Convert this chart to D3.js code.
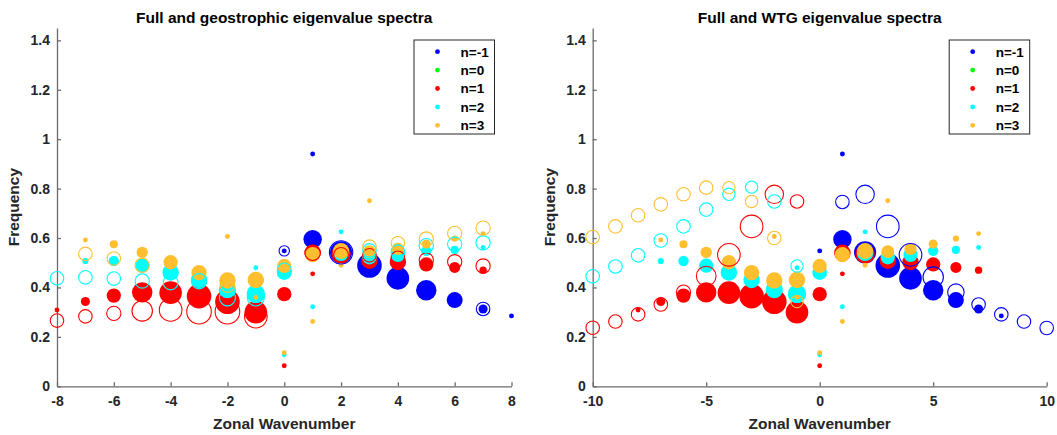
<!DOCTYPE html>
<html>

<head>
  <meta charset="utf-8">
  <title>Eigenvalue spectra</title>
  <script src="https://d3js.org/d3.v7.min.js"></script>
  <style>
    body {
      margin: 0;
      background: #fff;
    }

    text {
      font-family: 'Liberation Sans', Arial, sans-serif;
      font-weight: bold;
    }

    .axis text {
      fill: #262626;
      font-size: 14px;
    }

    .axis line,
    .axis path {
      stroke: #6b6b6b;
      stroke-width: 1.3px;
    }
  </style>
</head>

<body>
  <div id="chart"></div>
  <script>
    // wave index n, and its colour
    const nLevels = [-1, 0, 1, 2, 3];
    const nColors = ["#0000ff", "#00ff00", "#ff0000", "#00ffff", "#ffbf2f"];
    const legendLabels = ["n=-1", "n=0", "n=1", "n=2", "n=3"];

    const yTicks = [0, 0.2, 0.4, 0.6, 0.8, 1, 1.2, 1.4];
    const leftXTicks = [-8, -6, -4, -2, 0, 2, 4, 6, 8];
    const rightXTicks = [-10, -5, 0, 5, 10];

    // full spectrum: [n, wavenumber, frequency, amplitude]
    const fullSpectrum = [
      [-1, 0, 0.548, 0.2], [-1, 1, 0.940, 0.2], [-1, 1, 0.595, 0.75], [-1, 2, 0.542, 0.9],
      [-1, 3, 0.489, 1.0], [-1, 4, 0.437, 0.92], [-1, 5, 0.389, 0.83], [-1, 6, 0.349, 0.65],
      [-1, 7, 0.313, 0.37], [-1, 8, 0.285, 0.2],
      [1, -8, 0.309, 0.2], [1, -7, 0.343, 0.37], [1, -6, 0.367, 0.58], [1, -5, 0.380, 0.83],
      [1, -4, 0.379, 0.92], [1, -3, 0.365, 1.0], [1, -2, 0.342, 1.0], [1, -1, 0.300, 0.92],
      [1, 0, 0.373, 0.58], [1, 0, 0.083, 0.2], [1, 1, 0.540, 0.67], [1, 1, 0.455, 0.2],
      [1, 2, 0.536, 0.78], [1, 3, 0.508, 0.67], [1, 4, 0.503, 0.67], [1, 5, 0.493, 0.58],
      [1, 6, 0.481, 0.45], [1, 7, 0.470, 0.3],
      [2, -7, 0.507, 0.25], [2, -6, 0.507, 0.42], [2, -5, 0.488, 0.58], [2, -4, 0.461, 0.67],
      [2, -3, 0.430, 0.67], [2, -2, 0.391, 0.7], [2, -1, 0.480, 0.2], [2, -1, 0.374, 0.75],
      [2, 0, 0.460, 0.6], [2, 0, 0.128, 0.2], [2, 1, 0.322, 0.2], [2, 2, 0.625, 0.2],
      [2, 2, 0.540, 0.67], [2, 3, 0.522, 0.58], [2, 4, 0.532, 0.58], [2, 5, 0.548, 0.42],
      [2, 6, 0.552, 0.33], [2, 7, 0.562, 0.2],
      [3, -7, 0.592, 0.2], [3, -6, 0.575, 0.33], [3, -5, 0.542, 0.46], [3, -4, 0.502, 0.58],
      [3, -3, 0.460, 0.62], [3, -2, 0.606, 0.2], [3, -2, 0.428, 0.67], [3, -1, 0.430, 0.67],
      [3, -1, 0.360, 0.2], [3, 0, 0.487, 0.58], [3, 0, 0.136, 0.2], [3, 1, 0.533, 0.62],
      [3, 1, 0.262, 0.2], [3, 2, 0.548, 0.65], [3, 2, 0.490, 0.2], [3, 3, 0.751, 0.2],
      [3, 3, 0.545, 0.52], [3, 4, 0.556, 0.5], [3, 5, 0.576, 0.37], [3, 6, 0.598, 0.25],
      [3, 7, 0.618, 0.2]
    ];

    // geostrophic approximation (open circles)
    const geoSpectrum = [
      [-1, 0, 0.548, 0.42], [-1, 2, 0.542, 0.95], [-1, 7, 0.313, 0.55],
      [1, -8, 0.266, 0.55], [1, -7, 0.283, 0.55], [1, -6, 0.295, 0.58], [1, -5, 0.305, 0.83],
      [1, -4, 0.309, 0.92], [1, -3, 0.302, 1.0], [1, -2, 0.302, 1.0], [1, -1, 0.282, 0.92],
      [1, 1, 0.540, 0.62], [1, 2, 0.532, 0.6], [1, 3, 0.530, 0.55], [1, 4, 0.520, 0.55],
      [1, 5, 0.511, 0.58], [1, 6, 0.504, 0.58], [1, 7, 0.487, 0.58],
      [2, -8, 0.437, 0.55], [2, -7, 0.441, 0.55], [2, -6, 0.436, 0.55], [2, -5, 0.426, 0.58],
      [2, -4, 0.420, 0.6], [2, -3, 0.425, 0.62], [2, -2, 0.358, 0.65], [2, -1, 0.360, 0.7],
      [2, 0, 0.470, 0.58], [2, 3, 0.550, 0.55], [2, 4, 0.545, 0.55], [2, 5, 0.569, 0.58],
      [2, 6, 0.575, 0.58], [2, 7, 0.581, 0.58],
      [3, -7, 0.536, 0.55], [3, -6, 0.517, 0.55], [3, -5, 0.490, 0.58], [3, -2, 0.410, 0.6],
      [3, 3, 0.565, 0.55], [3, 4, 0.579, 0.55], [3, 5, 0.596, 0.58], [3, 6, 0.619, 0.58],
      [3, 7, 0.640, 0.58]
    ];

    // weak temperature gradient approximation (open circles)
    const wtgSpectrum = [
      [-1, 1, 0.746, 0.55], [-1, 2, 0.777, 0.75], [-1, 3, 0.647, 0.92], [-1, 4, 0.532, 0.92],
      [-1, 5, 0.442, 0.83], [-1, 6, 0.381, 0.67], [-1, 7, 0.331, 0.55], [-1, 8, 0.291, 0.55],
      [-1, 9, 0.262, 0.55], [-1, 10, 0.236, 0.55],
      [1, -10, 0.237, 0.55], [1, -9, 0.262, 0.55], [1, -8, 0.291, 0.55], [1, -7, 0.331, 0.55],
      [1, -6, 0.381, 0.58], [1, -5, 0.446, 0.8], [1, -4, 0.532, 0.92], [1, -3, 0.647, 0.92],
      [1, -2, 0.777, 0.75], [1, -1, 0.748, 0.55],
      [2, -10, 0.445, 0.55], [2, -9, 0.485, 0.55], [2, -8, 0.530, 0.55], [2, -7, 0.590, 0.55],
      [2, -6, 0.647, 0.55], [2, -5, 0.715, 0.55], [2, -4, 0.777, 0.5], [2, -3, 0.806, 0.5],
      [2, -2, 0.748, 0.55], [2, -1, 0.487, 0.5],
      [3, -10, 0.604, 0.55], [3, -9, 0.647, 0.55], [3, -8, 0.692, 0.55], [3, -7, 0.736, 0.55],
      [3, -6, 0.777, 0.55], [3, -5, 0.804, 0.55], [3, -4, 0.804, 0.5], [3, -3, 0.748, 0.5],
      [3, -2, 0.600, 0.55], [3, -1, 0.343, 0.5]
    ];

    const W = 1057, H = 435;
    const yTop = 28, yBottom = 386.3;

    const svg = d3.select("#chart")
      .append("svg")
      .attr("width", W)
      .attr("height", H);

    const color = d3.scaleOrdinal().domain(nLevels).range(nColors);
    const r = d3.scaleLinear().domain([0, 1]).range([0, 12.3]);
    const y = d3.scaleLinear().domain([0, 1.45]).range([yBottom, yTop]);

    // plain hyphen for negatives, like the original
    const fmt = d => String(d);

    function panel(title, xDomain, xRange, xTicks, approx) {
      const x = d3.scaleLinear().domain(xDomain).range(xRange);
      const g = svg.append("g");
      const cx = (xRange[0] + xRange[1]) / 2;

      g.append("g")
        .attr("class", "axis")
        .attr("transform", `translate(0,${yBottom})`)
        .call(d3.axisBottom(x).tickValues(xTicks).tickFormat(fmt)
          .tickSizeInner(-4).tickSizeOuter(0).tickPadding(10))
        .call(a => a.selectAll("text").attr("dy", "0.71em"));

      g.append("g")
        .attr("class", "axis")
        .attr("transform", `translate(${xRange[0]},0)`)
        .call(d3.axisLeft(y).tickValues(yTicks).tickFormat(fmt)
          .tickSizeInner(-4).tickSizeOuter(0).tickPadding(7));

      // filled = full, drawn by n order
      const byN = (a, b) => a[0] - b[0];
      g.append("g").selectAll("circle")
        .data(fullSpectrum.slice().sort(byN))
        .join("circle")
        .attr("cx", d => x(d[1]))
        .attr("cy", d => y(d[2]))
        .attr("r", d => r(d[3]))
        .attr("fill", d => color(d[0]));

      g.append("g").selectAll("circle")
        .data(approx.slice().sort(byN))
        .join("circle")
        .attr("cx", d => x(d[1]))
        .attr("cy", d => y(d[2]))
        .attr("r", d => r(d[3]))
        .attr("fill", "none")
        .attr("stroke", d => color(d[0]))
        .attr("stroke-width", 1.1);

      g.append("text")
        .attr("x", cx)
        .attr("y", 23)
        .attr("text-anchor", "middle")
        .attr("font-size", "15.5px")
        .attr("fill", "#000")
        .text(title);

      g.append("text")
        .attr("x", cx)
        .attr("y", 429)
        .attr("text-anchor", "middle")
        .attr("font-size", "15.5px")
        .attr("fill", "#262626")
        .text("Zonal Wavenumber");

      g.append("text")
        .attr("transform", `translate(${xRange[0] - 38},${(yTop + yBottom) / 2}) rotate(-90)`)
        .attr("text-anchor", "middle")
        .attr("font-size", "15.5px")
        .attr("fill", "#262626")
        .text("Frequency");

      // legend
      const lw = 80.5, lh = 94;
      const lx = xRange[1] - 17 - lw, ly = 40;
      const leg = g.append("g").attr("transform", `translate(${lx},${ly})`);
      leg.append("rect")
        .attr("width", lw)
        .attr("height", lh)
        .attr("fill", "#fff")
        .attr("stroke", "#262626")
        .attr("stroke-width", 1);
      const row = leg.selectAll("g.item")
        .data(nLevels)
        .join("g")
        .attr("class", "item")
        .attr("transform", (d, i) => `translate(0,${11.7 + i * 18.4})`);
      row.append("circle")
        .attr("cx", 23.5)
        .attr("r", 2.4)
        .attr("fill", d => color(d));
      row.append("text")
        .attr("x", 46.5)
        .attr("dy", "0.36em")
        .attr("font-size", "13.5px")
        .attr("fill", "#000")
        .text((d, i) => legendLabels[i]);
    }

    panel("Full and geostrophic eigenvalue spectra", [-8, 8], [57, 511.5], leftXTicks, geoSpectrum);
    panel("Full and WTG eigenvalue spectra", [-10, 10], [592.7, 1046.7], rightXTicks, wtgSpectrum);
  </script>
</body>

</html>
